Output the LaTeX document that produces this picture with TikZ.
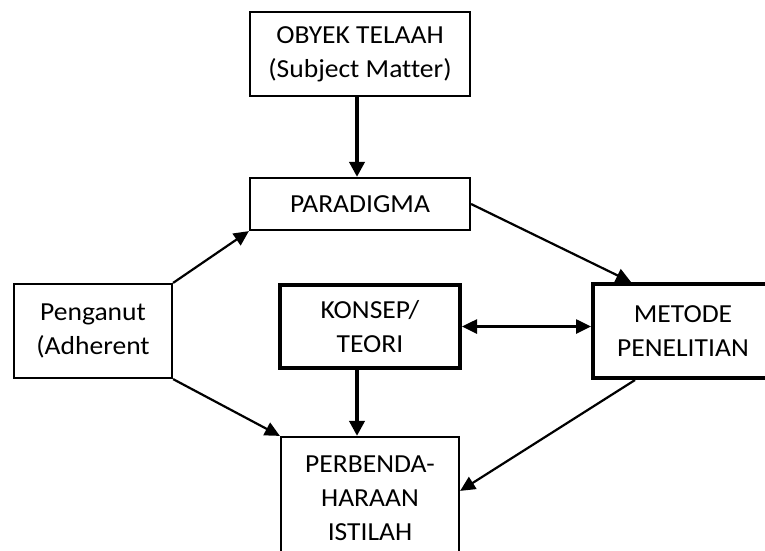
\documentclass[tikz,border=0pt]{standalone}
\usepackage{fontspec}
\setmainfont{Carlito}[FakeStretch=1.06, Ligatures=NoCommon]
\usetikzlibrary{arrows.meta,calc}
\begin{document}
\begin{tikzpicture}[x=1pt,y=-1pt,
  every node/.style={font=\fontsize{26}{34}\selectfont, align=center, inner sep=0pt},
  thinbox/.style={draw, line width=2.2pt, rectangle},
  thickbox/.style={draw, line width=4pt, rectangle},
  thinarrow/.style={line width=2.2pt, -{Triangle[length=15pt,width=14pt]}},
  thickarrow/.style={line width=3.8pt, -{Triangle[length=15pt,width=15pt]}},
  dblarrow/.style={line width=2.6pt, {Triangle[length=15pt,width=14pt]}-{Triangle[length=15pt,width=14pt]}}]
\useasboundingbox (0,0) rectangle (765,550);
\clip (0,0) rectangle (765,550);
\fill[white] (0,0) rectangle (765,550);
\node[thinbox, minimum width=220pt, minimum height=84pt] (obyek) at (360,54) {OBYEK TELAAH\\(Subject Matter)};
\node[thinbox, minimum width=220pt, minimum height=52pt] (para) at (360,204) {PARADIGMA};
\node[thinbox, minimum width=158pt, minimum height=94pt] (peng) at (93,331) {Penganut\\(Adherent};
\node[thickbox, minimum width=180pt, minimum height=83pt] (konsep) at (370,326.5) {KONSEP/\\TEORI};
\node[thickbox, minimum width=180pt, minimum height=94pt] (metode) at (683,331) {METODE\\PENELITIAN};
\node[thinbox, minimum width=178pt, minimum height=122pt] (perb) at (370,498) {PERBENDA-\\HARAAN\\ISTILAH};
\coordinate (obyekout) at ($(obyek.south)+(-3,0)$);
\draw[thickarrow] (obyekout) -- (obyekout |- para.north);
\draw[thinarrow] (peng.north east) -- (para.south west);
\draw[thinarrow] (para.east) -- ($(metode.north west)+(40,0)$);
\draw[dblarrow] (konsep.east) -- (konsep.east -| metode.west);
\coordinate (konsepout) at ($(konsep.south)+(-13,0)$);
\draw[thickarrow] (konsepout) -- (konsepout |- perb.north);
\draw[thinarrow] (peng.south east) -- (perb.north west);
\draw[thinarrow] ($(metode.south west)+(44,0)$) -- ($(perb.north east)+(0,55)$);
\end{tikzpicture}
\end{document}
